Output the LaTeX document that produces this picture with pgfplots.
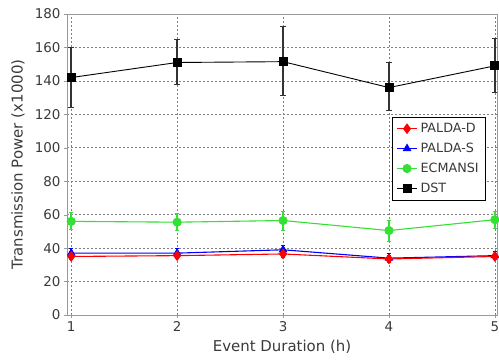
\documentclass[border=0pt]{standalone}
\usepackage{pgfplots}
\pgfplotsset{compat=1.18}
\usepackage{pgfplotstable}
\usepackage{fontspec}
\setmainfont{DejaVu Sans}
\definecolor{txtgray}{HTML}{3A3A3A}
\definecolor{framegray}{HTML}{999999}
\definecolor{ecgreen}{HTML}{33E033}

\pgfplotstableread{
x y ep em
1 142 18 18
2 151 13.5 13
3 151.5 21 20.5
4 136 15 14
5 149 16.5 16
}\dst
\pgfplotstableread{
x y ep em
1 56 5 5
2 55.5 5 5
3 56.5 5.5 6
4 50.5 6 6.5
5 57 5 5
}\ecm
\pgfplotstableread{
x y ep em
1 37 2.5 2.5
2 37 2.5 2.5
3 39 2.5 2.5
4 34 2.5 2.5
5 35.5 2.5 2.5
}\palds
\pgfplotstableread{
x y ep em
1 35 2 2
2 35.5 2 2
3 36.5 2 2
4 33.5 2 2
5 35 2 2
}\paldd

\begin{document}
\begin{tikzpicture}
\useasboundingbox (-67bp,-46bp) rectangle (432bp,315bp);
\begin{axis}[
  at={(0,0)}, anchor=south west,
  scale only axis,
  width=430bp, height=301bp,
  xmin=0.96, xmax=5.02,
  ymin=0, ymax=180,
  xtick={1,2,3,4,5},
  ytick={0,20,...,180},
  grid=major,
  major grid style={gray, dash pattern=on 2bp off 2bp, line width=0.6bp},
  axis line style={framegray, line width=0.8bp},
  tick style={framegray},
  major tick length=3bp,
  tick align=outside,
  xtick pos=bottom, ytick pos=left,
  ticklabel style={font=\fontsize{13.5}{15}\selectfont, text=txtgray},
  /pgf/number format/assume math mode=true,
  xlabel={Event Duration (h)},
  ylabel={Transmission Power (x1000)},
  label style={font=\fontsize{15}{17}\selectfont, text=txtgray},
  xlabel style={at={(axis description cs:0.5,0)}, anchor=north, yshift=-22bp},
  ylabel style={at={(axis description cs:0,0.5)}, anchor=south, yshift=39bp},
  legend style={at={(0.756,0.658)}, anchor=north west, draw=black, line width=0.8bp,
    font=\fontsize{12.8}{14}\selectfont, text=txtgray, row sep=5bp,
    inner xsep=4bp, inner ysep=4bp,
    nodes={inner xsep=3bp}},
  legend cell align=left,
  reverse legend,
  legend image code/.code={
    \draw[mark repeat=2,mark phase=2] plot coordinates {(0bp,0bp) (10bp,0bp) (20bp,0bp)};
  },
  error bars/y dir=both, error bars/y explicit,
]
\addplot+[black, line width=0.9bp, mark=square*, mark size=4bp, mark options={solid, fill=black},
  error bars/error bar style={line width=1.5bp, black!80}, error bars/error mark options={line width=1bp, mark size=3bp, rotate=90}]
  table[x=x, y=y, y error plus=ep, y error minus=em]{\dst};
\addlegendentry{DST}
\addplot+[ecgreen, line width=1.1bp, mark=*, mark size=4bp, mark options={solid, fill=ecgreen},
  error bars/error bar style={line width=1.5bp, ecgreen}, error bars/error mark options={line width=1bp, mark size=2bp, rotate=90}]
  table[x=x, y=y, y error plus=ep, y error minus=em]{\ecm};
\addlegendentry{ECMANSI}
\addplot+[blue, line width=1.1bp, mark=triangle*, mark size=4bp, mark options={solid, fill=blue},
  error bars/error bar style={line width=1.5bp, blue}, error bars/error mark options={line width=1bp, mark size=2bp, rotate=90}]
  table[x=x, y=y, y error plus=ep, y error minus=em]{\palds};
\addlegendentry{PALDA-S}
\addplot+[red, line width=1.1bp, mark=diamond*, mark size=4.5bp, mark options={solid, fill=red},
  error bars/error bar style={line width=1.5bp, red}, error bars/error mark options={line width=1bp, mark size=2bp, rotate=90}]
  table[x=x, y=y, y error plus=ep, y error minus=em]{\paldd};
\addlegendentry{PALDA-D}
\end{axis}
\end{tikzpicture}
\end{document}
